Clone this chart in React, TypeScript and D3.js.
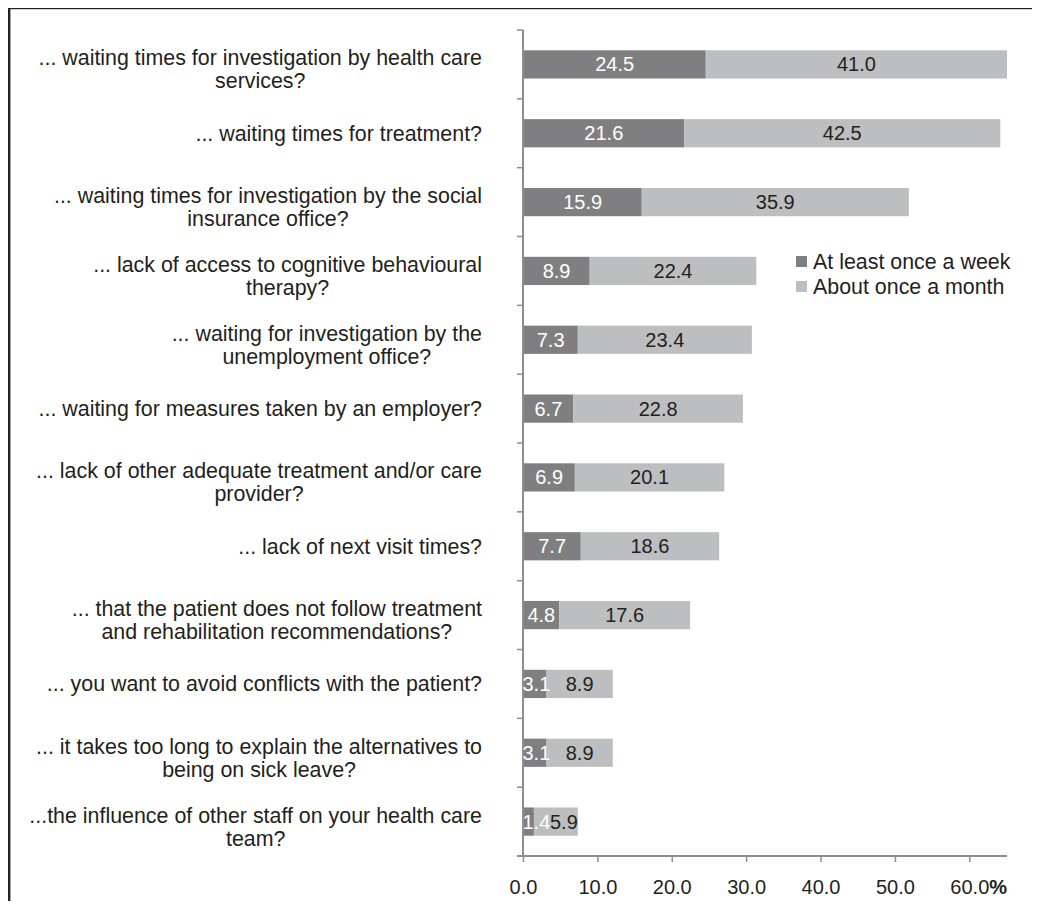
import React from "react";
import * as d3 from "d3";

const categories: string[] = [
  "... waiting times for investigation by health care\nservices?",
  "... waiting times for treatment?",
  "... waiting times for investigation by the social\ninsurance office?",
  "... lack of access to cognitive behavioural\ntherapy?",
  "... waiting for investigation by the\nunemployment office?",
  "... waiting for measures taken by an employer?",
  "... lack of other adequate treatment and/or care\nprovider?",
  "... lack of next visit times?",
  "... that the patient does not follow treatment\nand rehabilitation recommendations?",
  "... you want to avoid conflicts with the patient?",
  "... it takes too long to explain the alternatives to\nbeing on sick leave?",
  "...the influence of other staff on your health care\nteam?",
];
const weekly: number[] = [24.5, 21.6, 15.9, 8.9, 7.3, 6.7, 6.9, 7.7, 4.8, 3.1, 3.1, 1.4];
const monthly: number[] = [41.0, 42.5, 35.9, 22.4, 23.4, 22.8, 20.1, 18.6, 17.6, 8.9, 8.9, 5.9];
const seriesNames: string[] = ["At least once a week", "About once a month"];
const xTicks: number[] = [0, 10, 20, 30, 40, 50, 60];

const DARK = "#7f7f82";
const LIGHT = "#bdbebf";
const AXIS = "#8e8e90";
const TEXT = "#231f20";
const FONT = "'Liberation Sans', Arial, sans-serif";

let ctx: CanvasRenderingContext2D | null = null;
function measure(t: string, size: number): number {
  if (!ctx) ctx = document.createElement("canvas").getContext("2d");
  if (!ctx) return t.length * size * 0.5;
  ctx.font = `${size}px 'Liberation Sans'`;
  return ctx.measureText(t).width;
}

export default function App() {
  const x = d3.scaleLinear().domain([0, 65]).range([523.5, 1007]).clamp(true);
  const y = d3.scaleBand<number>().domain(d3.range(categories.length)).range([30, 856]).paddingInner(0.59).paddingOuter(0.295);
  const bandStep = (856 - 30) / categories.length;
  const labelRight = 482;
  const catSize = 21.4;
  const lineGap = 23;

  return (
    <svg width={1024} height={893} style={{ display: "block" }} fontFamily={FONT}>
      <g transform="translate(-8,-8)">
        <rect x={9.2} y={8} width={1100} height={1000} fill="white" stroke="#222" strokeWidth={2.4} />
        {/* bars */}
        {categories.map((c, i) => {
          const y0 = y(i)!;
          const h = y.bandwidth();
          const xa = x(0), xb = x(weekly[i]), xc = x(weekly[i] + monthly[i]);
          return (
            <g key={i}>
              <rect x={xa} y={y0} width={xb - xa} height={h} fill={DARK} />
              <rect x={xb} y={y0} width={xc - xb} height={h} fill={LIGHT} />
            </g>
          );
        })}
        {/* y axis */}
        <line x1={523} x2={523} y1={30} y2={856} stroke={AXIS} strokeWidth={2} />
        {d3.range(categories.length + 1).map((k) => (
          <line key={k} x1={517} x2={523} y1={30 + k * bandStep} y2={30 + k * bandStep} stroke={AXIS} strokeWidth={1.5} />
        ))}
        {/* x axis */}
        <line x1={517} x2={1007} y1={856} y2={856} stroke={AXIS} strokeWidth={2} />
        {xTicks.map((t, k) => {
          const last = k === xTicks.length - 1;
          return (
            <g key={t}>
              <line x1={x(t)} x2={x(t)} y1={856} y2={862} stroke={AXIS} strokeWidth={1.5} />
              <text x={x(t)} y={894} textAnchor={last ? "start" : "middle"} fontSize={20} fill={TEXT}
                dx={last ? -measure(t.toFixed(1), 20) / 2 : 0}>
                {t.toFixed(1)}
                {last ? <tspan fontWeight="bold">%</tspan> : null}
              </text>
            </g>
          );
        })}
        {/* value labels */}
        {categories.map((c, i) => {
          const cy = y(i)! + y.bandwidth() / 2;
          const w = weekly[i];
          const m = monthly[i];
          const xa = x(0), xb = x(w), xc = x(w + m);
          const wTxt = w.toFixed(1);
          const mTxt = m.toFixed(1);
          const ww = measure(wTxt, 20);
          const mw = measure(mTxt, 20);
          const wx = Math.max((xa + xb) / 2, xa - 1 + ww / 2);
          const wRight = wx + ww / 2;
          const mx = Math.min(Math.max((xb + xc) / 2, wRight + mw / 2), xc - mw / 2);
          return (
            <g key={i}>
              <text x={mx} y={cy} dy="0.35em" textAnchor="middle" fontSize={20} fill={TEXT}>{mTxt}</text>
              <text x={wx} y={cy} dy="0.35em" textAnchor="middle" fontSize={20} fill="#ffffff">{wTxt}</text>
            </g>
          );
        })}
        {/* category labels */}
        {categories.map((c, i) => {
          const lines = c.split("\n");
          const maxW = Math.max(...lines.map((l) => measure(l, catSize)));
          const cx = labelRight - maxW / 2;
          const cy = y(i)! + y.bandwidth() / 2 + (lines.length > 1 ? 5 : 0);
          const startY = cy - ((lines.length - 1) * lineGap) / 2;
          return (
            <text key={i} textAnchor="middle" fontSize={catSize} fill={TEXT}>
              {lines.map((l, j) => (
                <tspan key={j} x={cx} y={startY + j * lineGap} dy="0.35em">{l}</tspan>
              ))}
            </text>
          );
        })}
        {/* legend */}
        {seriesNames.map((s, k) => (
          <g key={s}>
            <rect x={796} y={256 + k * 25} width={11} height={11} fill={k === 0 ? DARK : LIGHT} />
            <text x={813} y={261.5 + k * 25} dy="0.35em" fontSize={21.4} fill={TEXT}>{s}</text>
          </g>
        ))}
      </g>
    </svg>
  );
}
